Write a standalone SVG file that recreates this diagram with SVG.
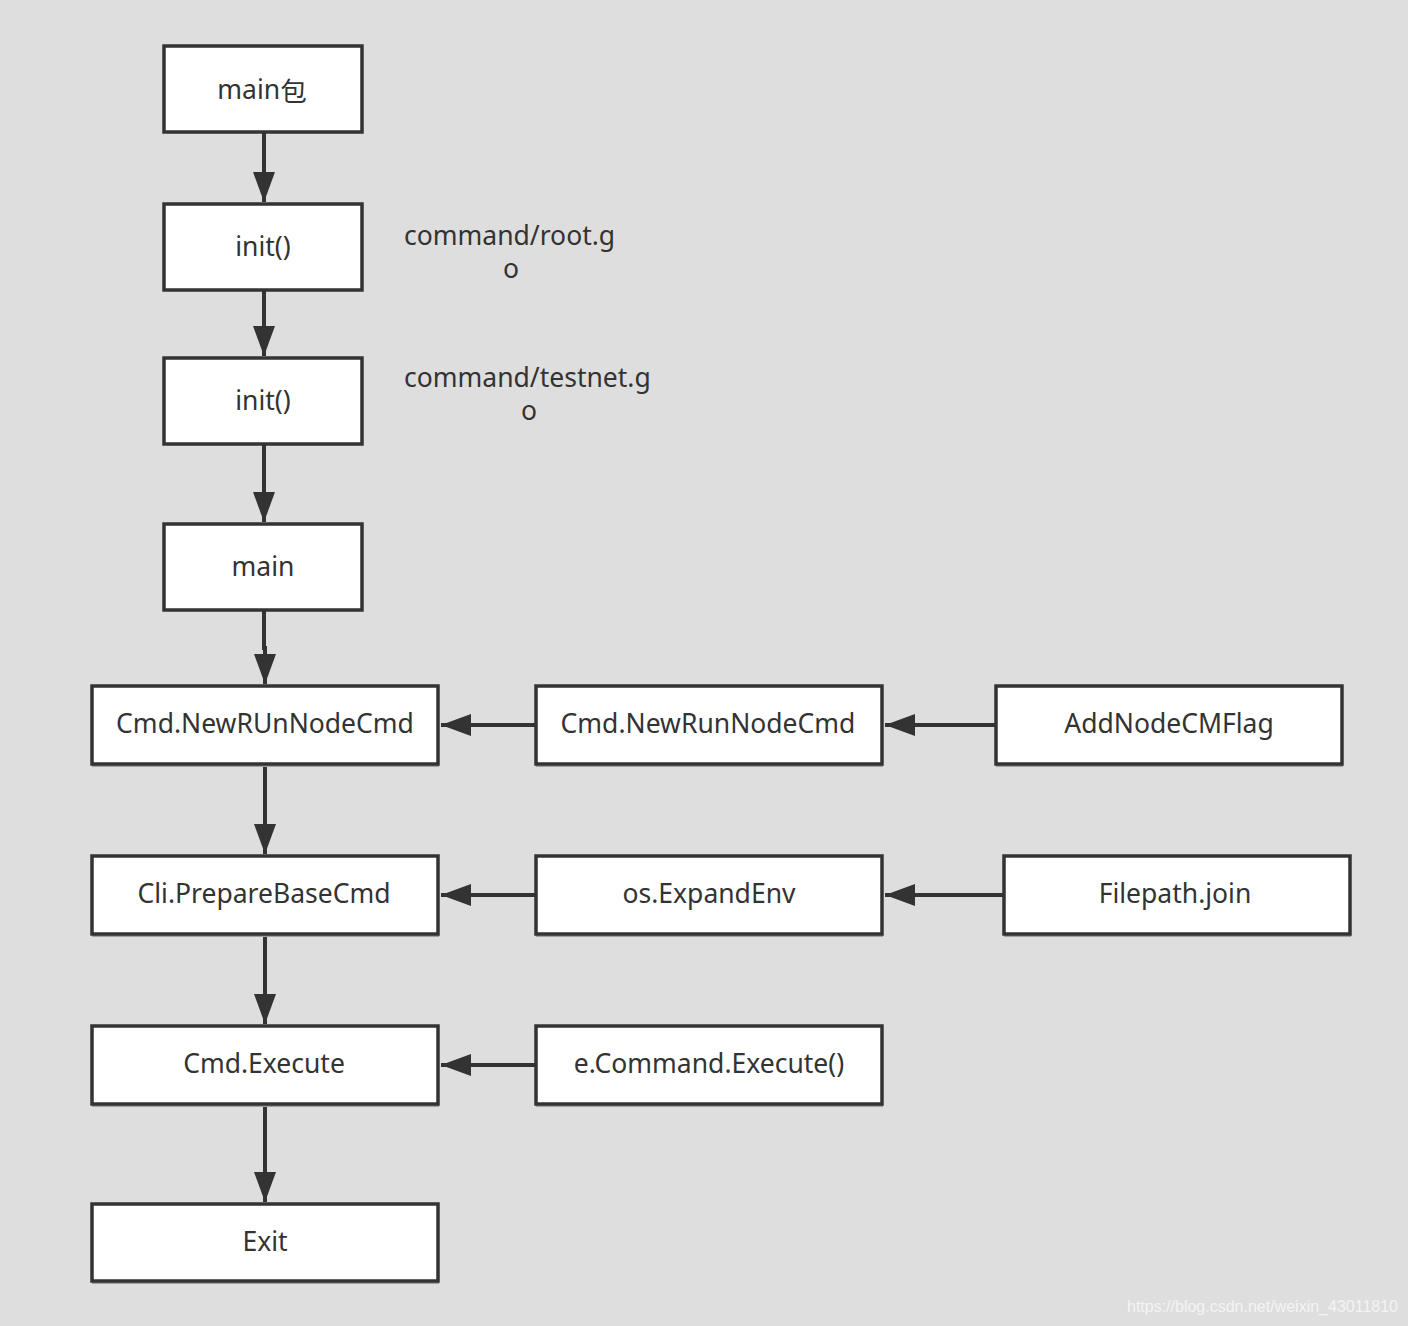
<svg xmlns="http://www.w3.org/2000/svg" width="1408" height="1326" viewBox="0 0 1408 1326">
<style>
.box{fill:#fff;stroke:#333;stroke-width:3.5}
.sh{fill:#a0a0a0}
.t{font-family:"Noto Sans","Open Sans",sans-serif;font-size:26.5px;fill:#333;text-anchor:middle;dominant-baseline:central}
.n{font-family:"Noto Sans","Open Sans",sans-serif;font-size:26.5px;fill:#333}
.c{stroke:#333;stroke-width:4;fill:none}
</style>
<defs>
<marker id="ah" markerUnits="userSpaceOnUse" markerWidth="32" markerHeight="24" refX="30" refY="11" orient="auto">
<path d="M0,0 L30,11 L0,22 Z" fill="#333"/>
</marker>
</defs>
<rect width="1408" height="1326" fill="#dedede"/>
<g id="connectors">
<line class="c" x1="264" y1="132" x2="264" y2="202" marker-end="url(#ah)"/>
<line class="c" x1="264" y1="290" x2="264" y2="356" marker-end="url(#ah)"/>
<line class="c" x1="264" y1="444" x2="264" y2="522" marker-end="url(#ah)"/>
<path class="c" d="M264,610 V648 H265 V684" marker-end="url(#ah)"/>
<line class="c" x1="265" y1="764" x2="265" y2="854" marker-end="url(#ah)"/>
<line class="c" x1="265" y1="934" x2="265" y2="1024" marker-end="url(#ah)"/>
<line class="c" x1="265" y1="1104" x2="265" y2="1202" marker-end="url(#ah)"/>
<line class="c" x1="535" y1="725" x2="441" y2="725" marker-end="url(#ah)"/>
<line class="c" x1="995" y1="725" x2="885" y2="725" marker-end="url(#ah)"/>
<line class="c" x1="535" y1="895" x2="441" y2="895" marker-end="url(#ah)"/>
<line class="c" x1="1003" y1="895" x2="885" y2="895" marker-end="url(#ah)"/>
<line class="c" x1="535" y1="1065" x2="441" y2="1065" marker-end="url(#ah)"/>
</g>
<g id="n1"><rect class="box" x="164" y="46" width="198" height="86"/><text class="t" x="262" y="89">main<tspan font-family="Noto Sans CJK SC">包</tspan></text></g>
<g id="n2"><rect class="box" x="164" y="204" width="198" height="86"/><text class="t" x="263" y="246">init()</text></g>
<g id="n3"><rect class="box" x="164" y="358" width="198" height="86"/><text class="t" x="263" y="400">init()</text></g>
<g id="n4"><rect class="box" x="164" y="524" width="198" height="86"/><text class="t" x="263" y="566">main</text></g>
<g id="n5"><rect class="sh" x="92" y="765" width="347" height="2"/><rect class="box" x="92" y="686" width="346" height="78"/><text class="t" x="265" y="723">Cmd.NewRUnNodeCmd</text></g>
<g id="n6"><rect class="sh" x="536" y="765" width="347" height="2"/><rect class="box" x="536" y="686" width="346" height="78"/><text class="t" x="708" y="723">Cmd.NewRunNodeCmd</text></g>
<g id="n7"><rect class="sh" x="996" y="765" width="347" height="2"/><rect class="box" x="996" y="686" width="346" height="78"/><text class="t" x="1169" y="723">AddNodeCMFlag</text></g>
<g id="n8"><rect class="sh" x="92" y="935" width="347" height="2"/><rect class="box" x="92" y="856" width="346" height="78"/><text class="t" x="264" y="893">Cli.PrepareBaseCmd</text></g>
<g id="n9"><rect class="sh" x="536" y="935" width="347" height="2"/><rect class="box" x="536" y="856" width="346" height="78"/><text class="t" x="709" y="893">os.ExpandEnv</text></g>
<g id="n10"><rect class="sh" x="1004" y="935" width="347" height="2"/><rect class="box" x="1004" y="856" width="346" height="78"/><text class="t" x="1175" y="893">Filepath.join</text></g>
<g id="n11"><rect class="sh" x="92" y="1105" width="347" height="2"/><rect class="box" x="92" y="1026" width="346" height="78"/><text class="t" x="264" y="1063">Cmd.Execute</text></g>
<g id="n12"><rect class="sh" x="536" y="1105" width="347" height="2"/><rect class="box" x="536" y="1026" width="346" height="78"/><text class="t" x="709" y="1063">e.Command.Execute()</text></g>
<g id="n13"><rect class="sh" x="92" y="1282" width="347" height="2"/><rect class="box" x="92" y="1204" width="346" height="77"/><text class="t" x="265" y="1241">Exit</text></g>
<g id="labels">
<text class="n" x="404" y="245">command/root.g</text>
<text class="t" x="511" y="268">o</text>
<text class="n" x="404" y="387">command/testnet.g</text>
<text class="t" x="529" y="410">o</text>
</g>
<text x="1398" y="1312" text-anchor="end" font-family="Liberation Sans, Arial, sans-serif" font-size="16" fill="#f4f4f4">https://blog.csdn.net/weixin_43011810</text>
</svg>
